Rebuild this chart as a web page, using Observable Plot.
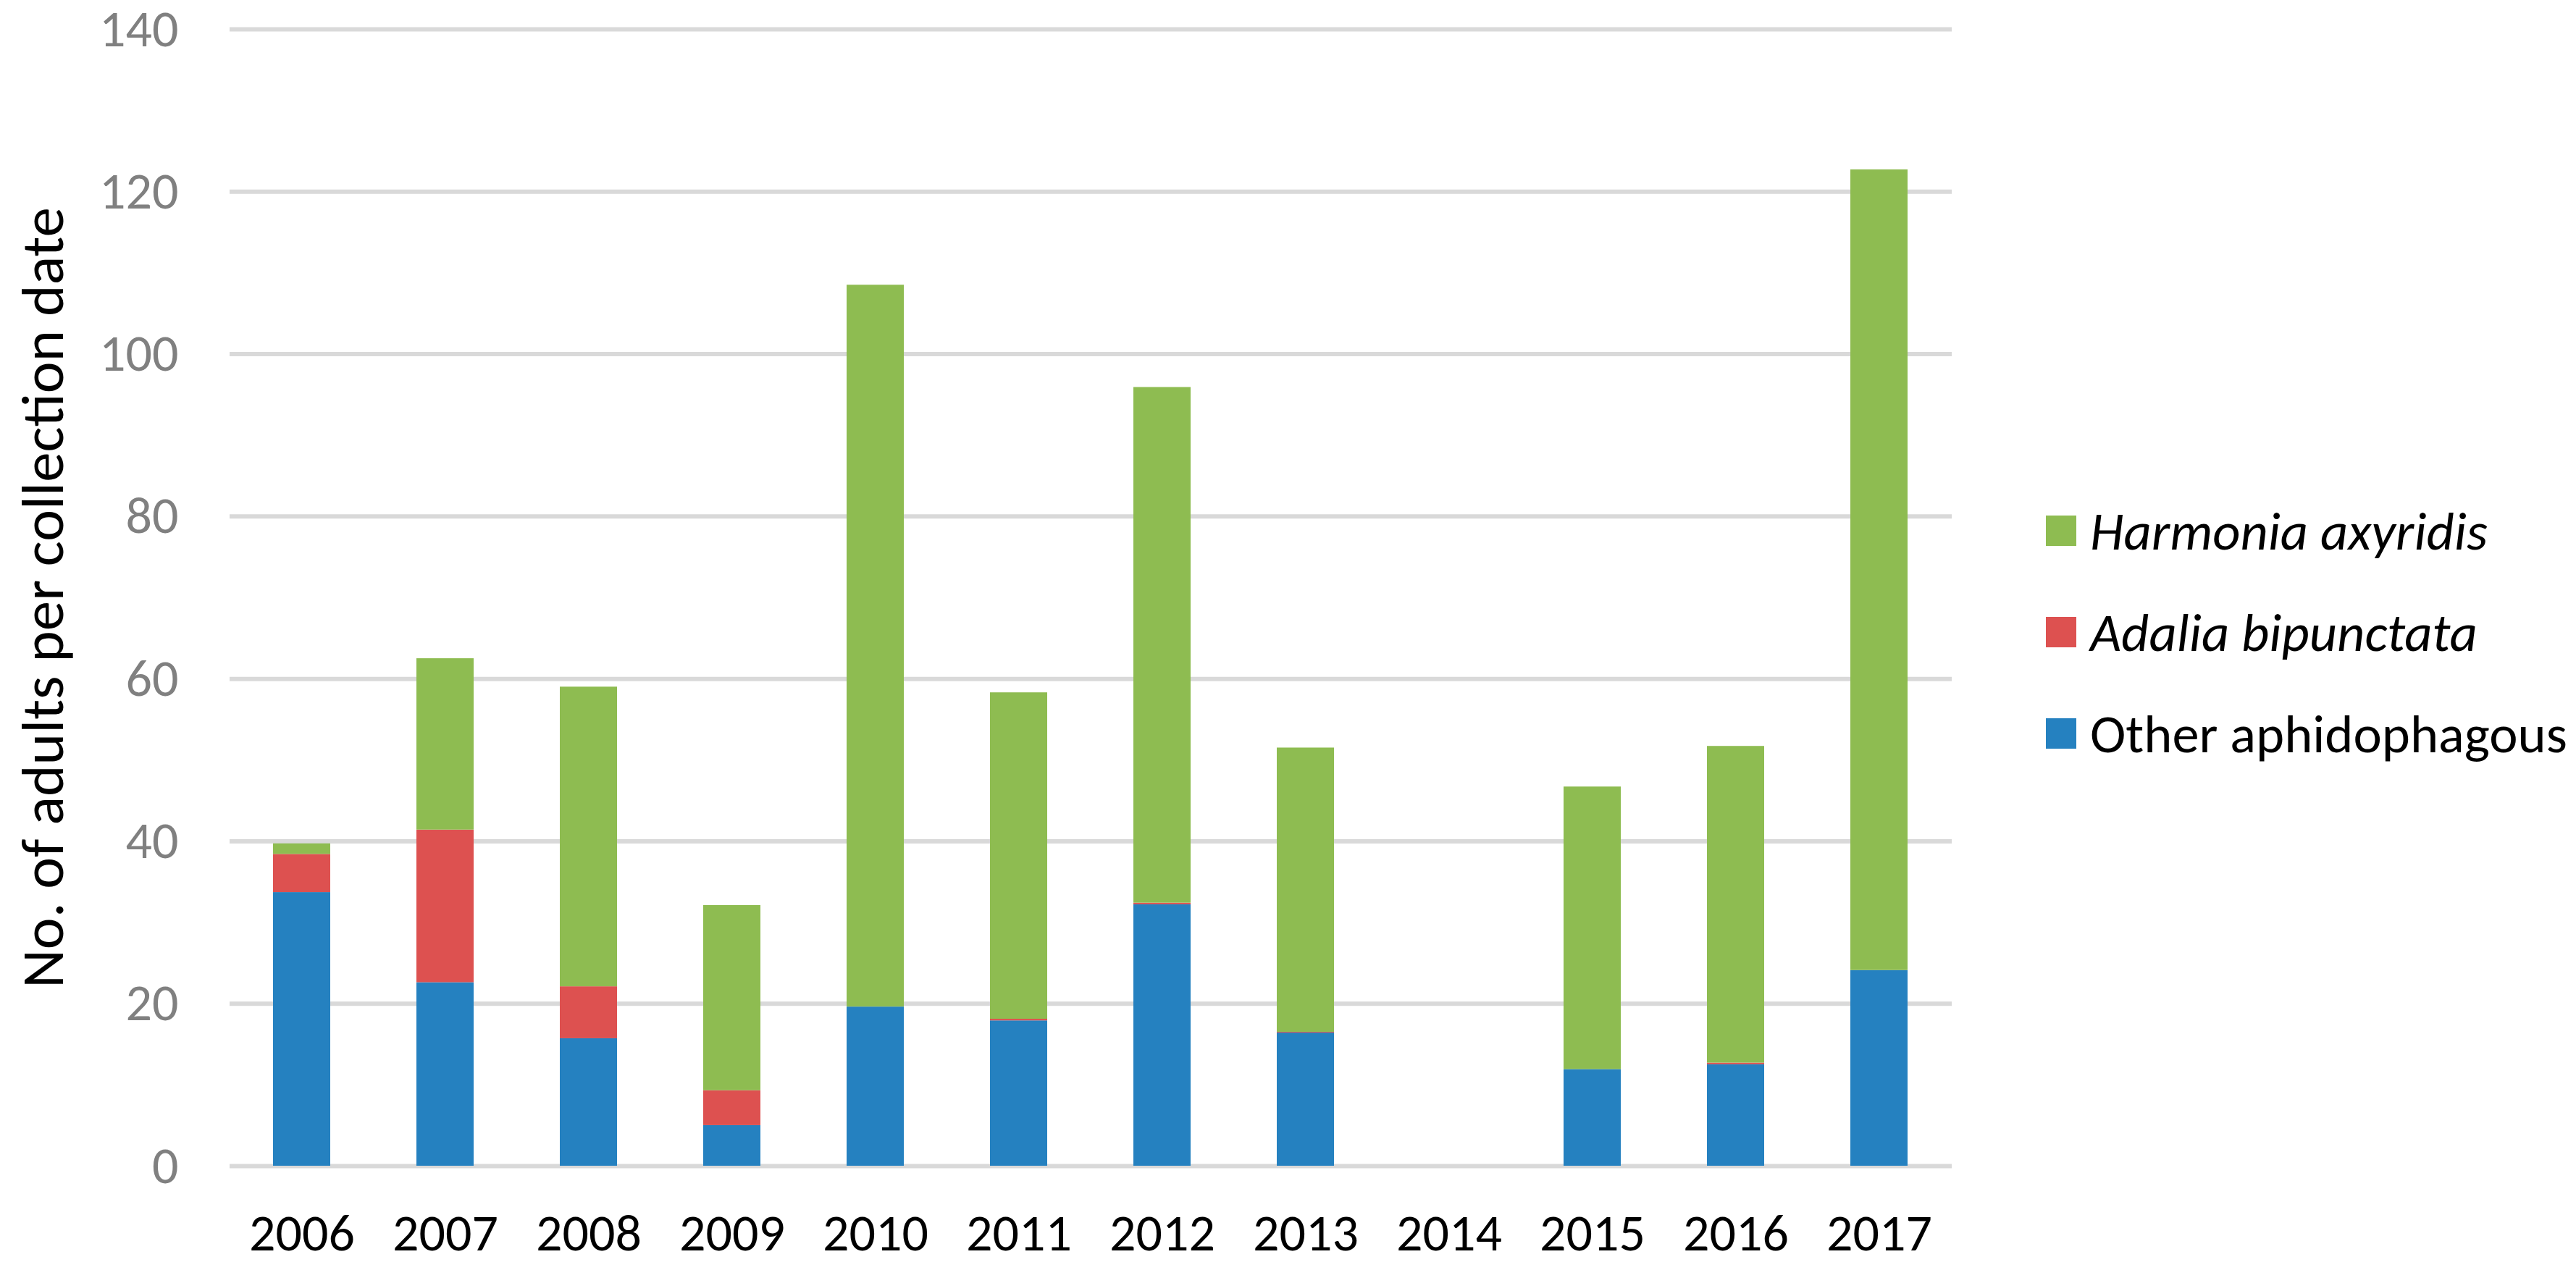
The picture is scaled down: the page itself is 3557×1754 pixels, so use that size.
<!DOCTYPE html>
<html>
<head>
<meta charset="utf-8">
<script src="https://cdn.jsdelivr.net/npm/d3@7"></script>
<script src="https://cdn.jsdelivr.net/npm/@observablehq/plot@0.6"></script>
<style>
  html, body { margin: 0; padding: 0; background: #fff; }
  #wrap { position: relative; width: 3557px; height: 1754px; font-family: Carlito, Calibri, Lato, sans-serif; }
  #legend { position: absolute; left: 2825px; top: 0; }
  .row { position: absolute; left: 0; display: flex; align-items: center; white-space: nowrap; height: 100px; margin-top: -50px; }
  .sw { width: 42px; height: 42px; margin-right: 19px; flex: none; }
  .lab { font-size: 74.5px; color: #000; }
</style>
</head>
<body>
<div id="wrap"></div>
<script>
const years = ["2006","2007","2008","2009","2010","2011","2012","2013","2014","2015","2016","2017"];
const other    = [33.7, 22.6, 15.7, 5.0, 19.6, 17.9, 32.2, 16.4, 0, 11.9, 12.5, 24.1];
const adalia   = [4.7, 18.8, 6.4, 4.3, 0, 0.2, 0.2, 0.1, 0, 0, 0.2, 0];
const harmonia = [1.3, 21.1, 36.9, 22.8, 88.9, 40.2, 63.5, 35.0, 0, 34.8, 39.0, 98.6];
const species = ["Other aphidophagous", "Adalia bipunctata", "Harmonia axyridis"];
const speciesColors = ["#2581c0", "#dd5150", "#8ebc51"];
const legendOrder = ["Harmonia axyridis", "Adalia bipunctata", "Other aphidophagous"];
const italicSpecies = ["Harmonia axyridis", "Adalia bipunctata"];
const yTicks = [0, 20, 40, 60, 80, 100, 120, 140];
const yTitle = "No. of adults per collection date";

const series = [other, adalia, harmonia];
const rows = [];
years.forEach((yr, i) => {
  species.forEach((sp, j) => rows.push({year: yr, species: sp, value: series[j][i]}));
});

const chart = Plot.plot({
  width: 2760,
  height: 1754,
  marginLeft: 317,
  marginRight: 65,
  marginTop: 40,
  marginBottom: 144,
  style: {fontFamily: "Carlito, Calibri, Lato, sans-serif", background: "#fff", overflow: "visible"},
  x: {domain: years, paddingInner: 0.6, paddingOuter: 0.3, label: null},
  y: {domain: [0, 140], label: null},
  color: {domain: species, range: speciesColors},
  marks: [
    Plot.gridY(yTicks, {stroke: "#d9d9d9", strokeWidth: 6, strokeOpacity: 1}),
    Plot.barY(rows, {x: "year", y: "value", fill: "species"}),
    Plot.axisY(yTicks, {tickSize: 0, tickPadding: 71, fontSize: 72, color: "#808080", label: null}),
    Plot.axisX({tickSize: 0, tickPadding: 65, fontSize: 72, color: "#000", label: null}),
    Plot.text([yTitle], {frameAnchor: "left", textAnchor: "middle", dx: -257, rotate: -90, fontSize: 83, fill: "#000"})
  ]
});

const wrap = document.getElementById("wrap");
wrap.appendChild(chart);
chart.style.position = "absolute";
chart.style.left = "0";
chart.style.top = "0";

const legend = document.createElement("div");
legend.id = "legend";
const centers = [733, 873, 1013];
legendOrder.forEach((sp, k) => {
  const r = document.createElement("div");
  r.className = "row";
  r.style.top = centers[k] + "px";
  const sw = document.createElement("div");
  sw.className = "sw";
  sw.style.background = speciesColors[species.indexOf(sp)];
  const lab = document.createElement("span");
  lab.className = "lab";
  lab.textContent = sp;
  if (italicSpecies.includes(sp)) lab.style.fontStyle = "italic";
  r.appendChild(sw);
  r.appendChild(lab);
  legend.appendChild(r);
});
wrap.appendChild(legend);
</script>
</body>
</html>
